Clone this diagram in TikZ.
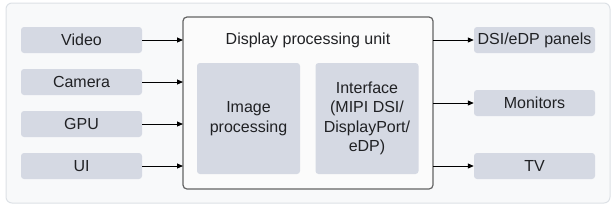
\documentclass[tikz,border=0pt]{standalone}
\usepackage{fontspec}
\setmainfont{Liberation Sans}
\usepackage{tikz}
\usetikzlibrary{arrows.meta,positioning,calc}

\definecolor{boxfill}{RGB}{213,217,227}
\definecolor{unitfill}{RGB}{251,251,251}
\definecolor{unitline}{RGB}{100,100,100}
\definecolor{bgfill}{RGB}{248,249,250}
\definecolor{bgline}{RGB}{221,225,230}
\definecolor{txt}{RGB}{32,33,36}

\tikzset{
    srcbox/.style={fill=boxfill, rounded corners=3pt, minimum width=121pt, minimum height=26pt, inner sep=0pt, text=txt},
    innerbox/.style={fill=boxfill, rounded corners=3pt, minimum width=103pt, minimum height=111pt, inner sep=0pt, align=center, text=txt},
    link/.style={-{Triangle[length=6pt,width=5pt]}, line width=1pt, black}
}

\begin{document}
\begin{tikzpicture}[x=1pt, y=-1pt, font=\fontsize{16pt}{19.5pt}\selectfont]
                \useasboundingbox (0,0) rectangle (616,210);
                \draw[bgline, fill=bgfill, line width=1pt, rounded corners=6pt] (6,3) rectangle (610,203);
                % display processing unit
                \draw[unitline, fill=unitfill, line width=1.2pt, rounded corners=4pt] (183,17) rectangle (433,189);
                \coordinate (unitW) at (183,0);
                \coordinate (unitE) at (433,0);
                \node[text=txt] (title) at (308,40) {Display processing unit};
                \node[innerbox] (imgproc) at (248.5,118.5) {Image\\processing};
                \node[innerbox] (iface) at (367,118.5) {Interface\\(MIPI DSI/\\DisplayPort/\\eDP)};
                % sources
                \node[srcbox] (video) at (81.5,40) {Video};
                \node[srcbox] (camera) at (81.5,82) {Camera};
                \node[srcbox] (gpu) at (81.5,124) {GPU};
                \node[srcbox] (ui) at (81.5,166) {UI};
                % sinks
                \node[srcbox] (panels) at (534.5,40) {DSI/eDP panels};
                \node[srcbox] (monitors) at (534.5,103) {Monitors};
                \node[srcbox] (tv) at (534.5,166) {TV};
                \foreach \n in {video,camera,gpu,ui}
                    \draw[link] (\n.east) -- (\n.east -| unitW);
                \foreach \n in {panels,monitors,tv}
                    \draw[link] (\n.west -| unitE) -- (\n.west);
            \end{tikzpicture}
\end{document}
